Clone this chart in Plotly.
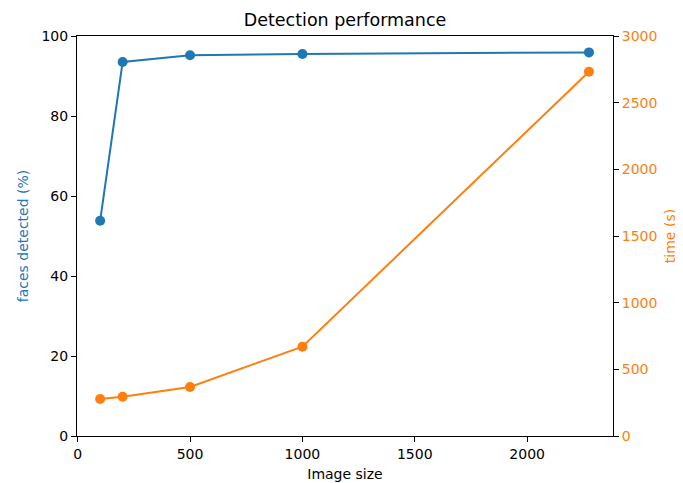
import plotly.graph_objects as go

image_size = [100, 200, 500, 1000, 2275]
faces_detected = [53.8, 93.5, 95.2, 95.5, 95.9]
time_s = [278, 295, 368, 670, 2732]

blue = "#1f77b4"
orange = "#ff7f0e"
font = "DejaVu Sans"

fig = go.Figure()
fig.add_trace(go.Scatter(x=image_size, y=faces_detected, mode="lines+markers",
                         line=dict(color=blue, width=2), marker=dict(size=10, color=blue),
                         yaxis="y", showlegend=False))
fig.add_trace(go.Scatter(x=image_size, y=time_s, mode="lines+markers",
                         line=dict(color=orange, width=2), marker=dict(size=10, color=orange),
                         yaxis="y2", showlegend=False))

axis_common = dict(showgrid=False, zeroline=False, ticks="outside", ticklen=5, tickwidth=1,
                   tickcolor="black", linecolor="black", linewidth=1, showline=True,
                   automargin=False)

W, H = 675, 475
fig.update_layout(
    width=W, height=H,
    margin=dict(l=69, r=70, t=28, b=47, autoexpand=False),
    paper_bgcolor="white", plot_bgcolor="white",
    font=dict(family=font, size=14, color="black"),
    title=dict(text="Detection performance", x=0.5, xanchor="center", xref="paper",
               y=1 - 12 / H, yref="container", yanchor="middle", automargin=False,
               font=dict(size=17.5, color="black")),
    xaxis=dict(**axis_common, range=[-3, 2382], tickvals=[0, 500, 1000, 1500, 2000],
               mirror=True, title=dict(text="Image size", font=dict(size=14), standoff=8)),
    yaxis=dict(**axis_common, range=[0, 100], tickvals=[0, 20, 40, 60, 80, 100],
               title=dict(text="faces detected (%)", font=dict(size=14, color=blue), standoff=9)),
    yaxis2=dict(**axis_common, range=[0, 3000], tickvals=[0, 500, 1000, 1500, 2000, 2500, 3000],
                overlaying="y", side="right", tickfont=dict(color=orange),
                title=dict(text="time (s)", font=dict(size=14, color=orange), standoff=8)),
)

fig.write_html("out.html")
